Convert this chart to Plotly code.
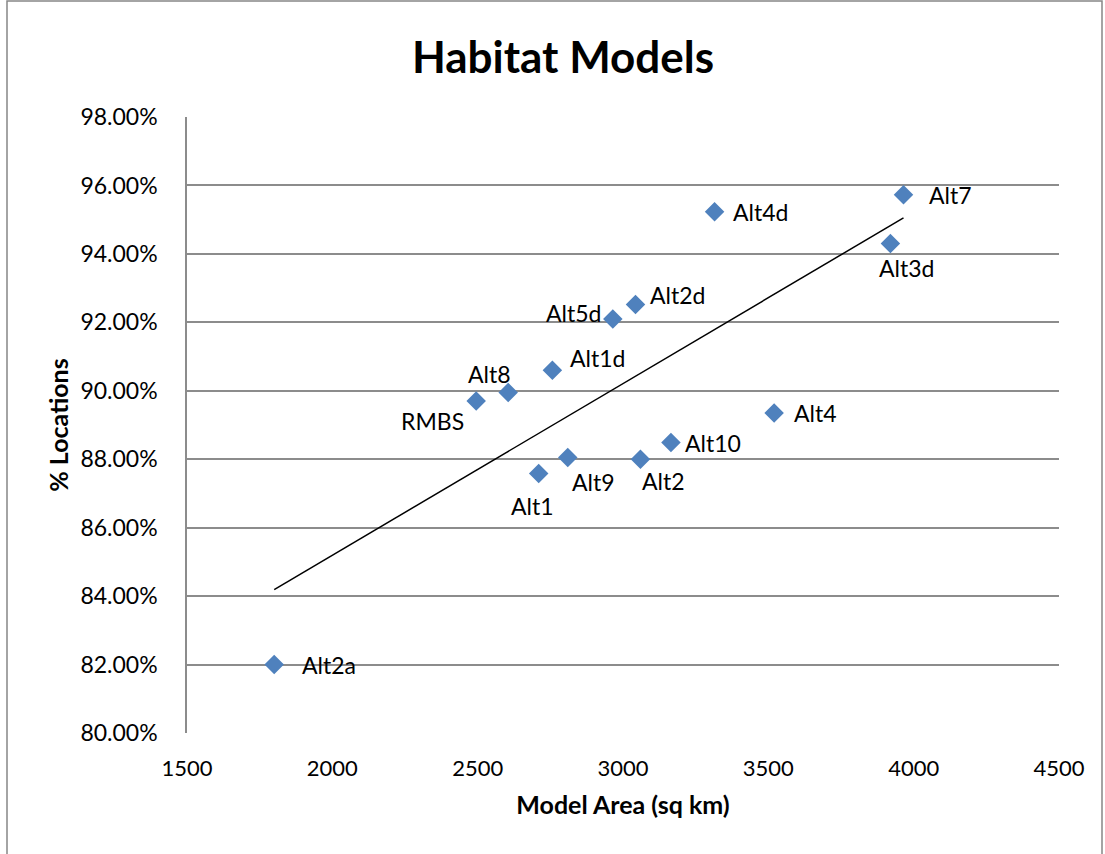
import numpy as np
import plotly.graph_objects as go

# ---- data ----
names = ["Alt2a", "RMBS", "Alt8", "Alt1", "Alt9", "Alt1d", "Alt5d", "Alt2d",
         "Alt2", "Alt10", "Alt4d", "Alt4", "Alt3d", "Alt7"]
area = [1800, 2495, 2605, 2710, 2810, 2757, 2965, 3043,
        3060, 3165, 3315, 3520, 3920, 3965]
locations = [0.8200, 0.8970, 0.8995, 0.8758, 0.8805, 0.9060, 0.9210, 0.9252,
             0.8800, 0.8849, 0.9523, 0.8935, 0.9430, 0.9573]

# label offsets (pixels) & anchors
label_pos = {
    "Alt2a": (26, 0, "left"), "RMBS": (-10, -20, "right"), "Alt8": (-19, 18, "center"),
    "Alt1": (-6, -32, "center"), "Alt9": (2, -24, "left"), "Alt1d": (16, 12, "left"),
    "Alt5d": (-10, 6, "right"), "Alt2d": (12, 10, "left"), "Alt2": (0, -22, "left"),
    "Alt10": (12, -1, "left"), "Alt4d": (16, 0, "left"), "Alt4": (18, 0, "left"),
    "Alt3d": (16, -24, "center"), "Alt7": (24, 0, "left"),
}

FONT = "Lato, 'Open Sans', sans-serif"
W, H = 1105, 854
L, R, T, B = 187, 46, 117, 121

fig = go.Figure()

# trendline (linear least squares through the data)
slope, intercept = np.polyfit(area, locations, 1)
tx = [min(area), max(area)]
ty = [slope * v + intercept for v in tx]
fig.add_trace(go.Scatter(x=tx, y=ty, mode="lines",
                         line=dict(color="black", width=1.5),
                         hoverinfo="skip", showlegend=False))

fig.add_trace(go.Scatter(x=area, y=locations, mode="markers", text=names,
                         marker=dict(symbol="diamond", size=15, color="#4F81BD",
                                     line=dict(width=0)),
                         showlegend=False))

for n, xv, yv in zip(names, area, locations):
    dx, dy, anc = label_pos[n]
    fig.add_annotation(x=xv, y=yv, text=n, showarrow=False, xanchor=anc,
                       yanchor="middle", xshift=dx, yshift=dy,
                       font=dict(family=FONT, size=23, color="black"))

pw = W - L - R
ph = H - T - B
# chart area border (bottom edge lies outside the visible page)
fig.add_shape(type="rect", xref="paper", yref="paper",
              x0=(7 - L) / pw, x1=(1102 - L) / pw,
              y0=(H - T - 900) / ph, y1=(H - T - 5) / ph,
              line=dict(color="#868686", width=1.5), layer="below")

fig.update_layout(
    width=W, height=H,
    margin=dict(l=L, r=R, t=T, b=B, autoexpand=False),
    paper_bgcolor="white", plot_bgcolor="white",
    font=dict(family=FONT, size=22, color="black"),
    title=dict(text="<b>Habitat Models</b>", x=563 / W, xanchor="center",
               y=1 - 58 / H, yanchor="middle",
               font=dict(family=FONT, size=44, color="black")),
    xaxis=dict(range=[1500, 4500], dtick=500, tick0=1500, showgrid=False,
               zeroline=False, showline=False, ticks="", automargin=False,
               ticklabelstandoff=20, tickfont=dict(size=22),
               title=dict(text="<b>Model Area (sq km)</b>", standoff=16,
                          font=dict(family=FONT, size=25))),
    yaxis=dict(range=[0.80, 0.98], dtick=0.02, tick0=0.80, tickformat=".2%",
               showgrid=True, gridcolor="#8C8C8C", gridwidth=1.5, automargin=False,
               zeroline=False, showline=True, linecolor="#8C8C8C", linewidth=1.5,
               ticks="", ticklabelstandoff=23, tickfont=dict(size=23),
               title=dict(text="<b>% Locations</b>", standoff=5,
                          font=dict(family=FONT, size=25))),
)

fig.write_html("out.html", config={"displayModeBar": False},
               post_script="document.body.style.margin='0';")
